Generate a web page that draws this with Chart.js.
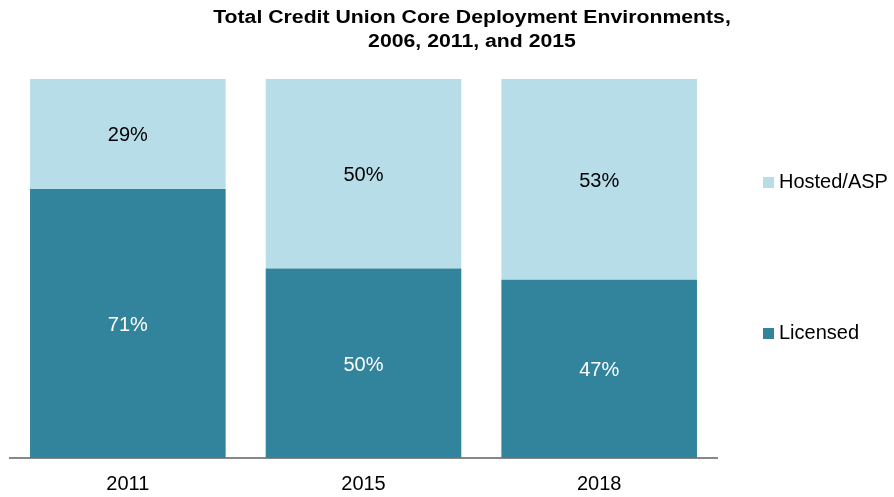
<!DOCTYPE html>
<html>
<head>
<meta charset="utf-8">
<script src="https://cdn.jsdelivr.net/npm/chart.js@4.4.0/dist/chart.umd.min.js"></script>
<style>
  html, body { margin: 0; padding: 0; background: #fff; }
  #wrap { width: 894px; height: 497px; }
</style>
</head>
<body>
<div id="wrap"><canvas id="chart" width="894" height="497"></canvas></div>
<script>
const years = ['2011', '2015', '2018'];
const licensed = [71, 50, 47];
const hosted = [29, 50, 53];
const titleLines = ['Total Credit Union Core Deployment Environments,', '2006, 2011, and 2015'];

const darkTeal = '#31849B';
const lightBlue = '#B7DDE8';
const fontFamily = '"Liberation Sans", Arial, sans-serif';

// title, bar labels and the right-hand legend are drawn by hand
const extras = {
    id: 'extras',
    afterDraw(chart) {
        const ctx = chart.ctx;
        ctx.save();
        ctx.textAlign = 'center';
        ctx.textBaseline = 'middle';

        // the title in the original is a bit wider than plain Arial bold
        ctx.fillStyle = '#000';
        ctx.font = 'bold 18px ' + fontFamily;
        [[titleLines[0], 18], [titleLines[1], 42]].forEach(([txt, y]) => {
            ctx.save();
            ctx.translate(472, y);
            ctx.scale(1.18, 1);
            ctx.fillText(txt, 0, 0);
            ctx.restore();
        });

        ctx.font = '20px ' + fontFamily;
        chart.data.datasets.forEach((ds, di) => {
            const meta = chart.getDatasetMeta(di);
            meta.data.forEach((bar, i) => {
                ctx.fillStyle = di === 0 ? '#fff' : '#000';
                ctx.fillText(ds.data[i] + '%', bar.x, (bar.y + bar.base) / 2 + 2);
            });
        });

        const legendItems = [
            { label: 'Hosted/ASP', color: lightBlue, y: 182 },
            { label: 'Licensed', color: darkTeal, y: 333 }
        ];
        ctx.textAlign = 'left';
        legendItems.forEach(item => {
            ctx.fillStyle = item.color;
            ctx.fillRect(763, item.y - 5, 11, 11);
            ctx.fillStyle = '#000';
            ctx.fillText(item.label, 779, item.y);
        });
        ctx.restore();
    }
};

new Chart(document.getElementById('chart'), {
    type: 'bar',
    data: {
        labels: years,
        datasets: [
            { label: 'Licensed', data: licensed, backgroundColor: darkTeal, barPercentage: 0.83, categoryPercentage: 1 },
            { label: 'Hosted/ASP', data: hosted, backgroundColor: lightBlue, barPercentage: 0.83, categoryPercentage: 1 }
        ]
    },
    options: {
        responsive: false,
        animation: false,
        layout: { padding: { top: 79, left: 10, right: 177, bottom: 0 } },
        plugins: {
            legend: { display: false },
            title: { display: false },
            tooltip: { enabled: false }
        },
        scales: {
            x: {
                stacked: true,
                grid: { display: false, drawTicks: false },
                border: { display: true, color: '#888', width: 2 },
                ticks: {
                    color: '#000',
                    padding: 14,
                    font: { family: fontFamily, size: 20 }
                },
                afterFit(scale) { scale.height = 39; }
            },
            y: {
                stacked: true,
                display: false,
                min: 0,
                max: 100
            }
        }
    },
    plugins: [extras]
});
</script>
</body>
</html>
